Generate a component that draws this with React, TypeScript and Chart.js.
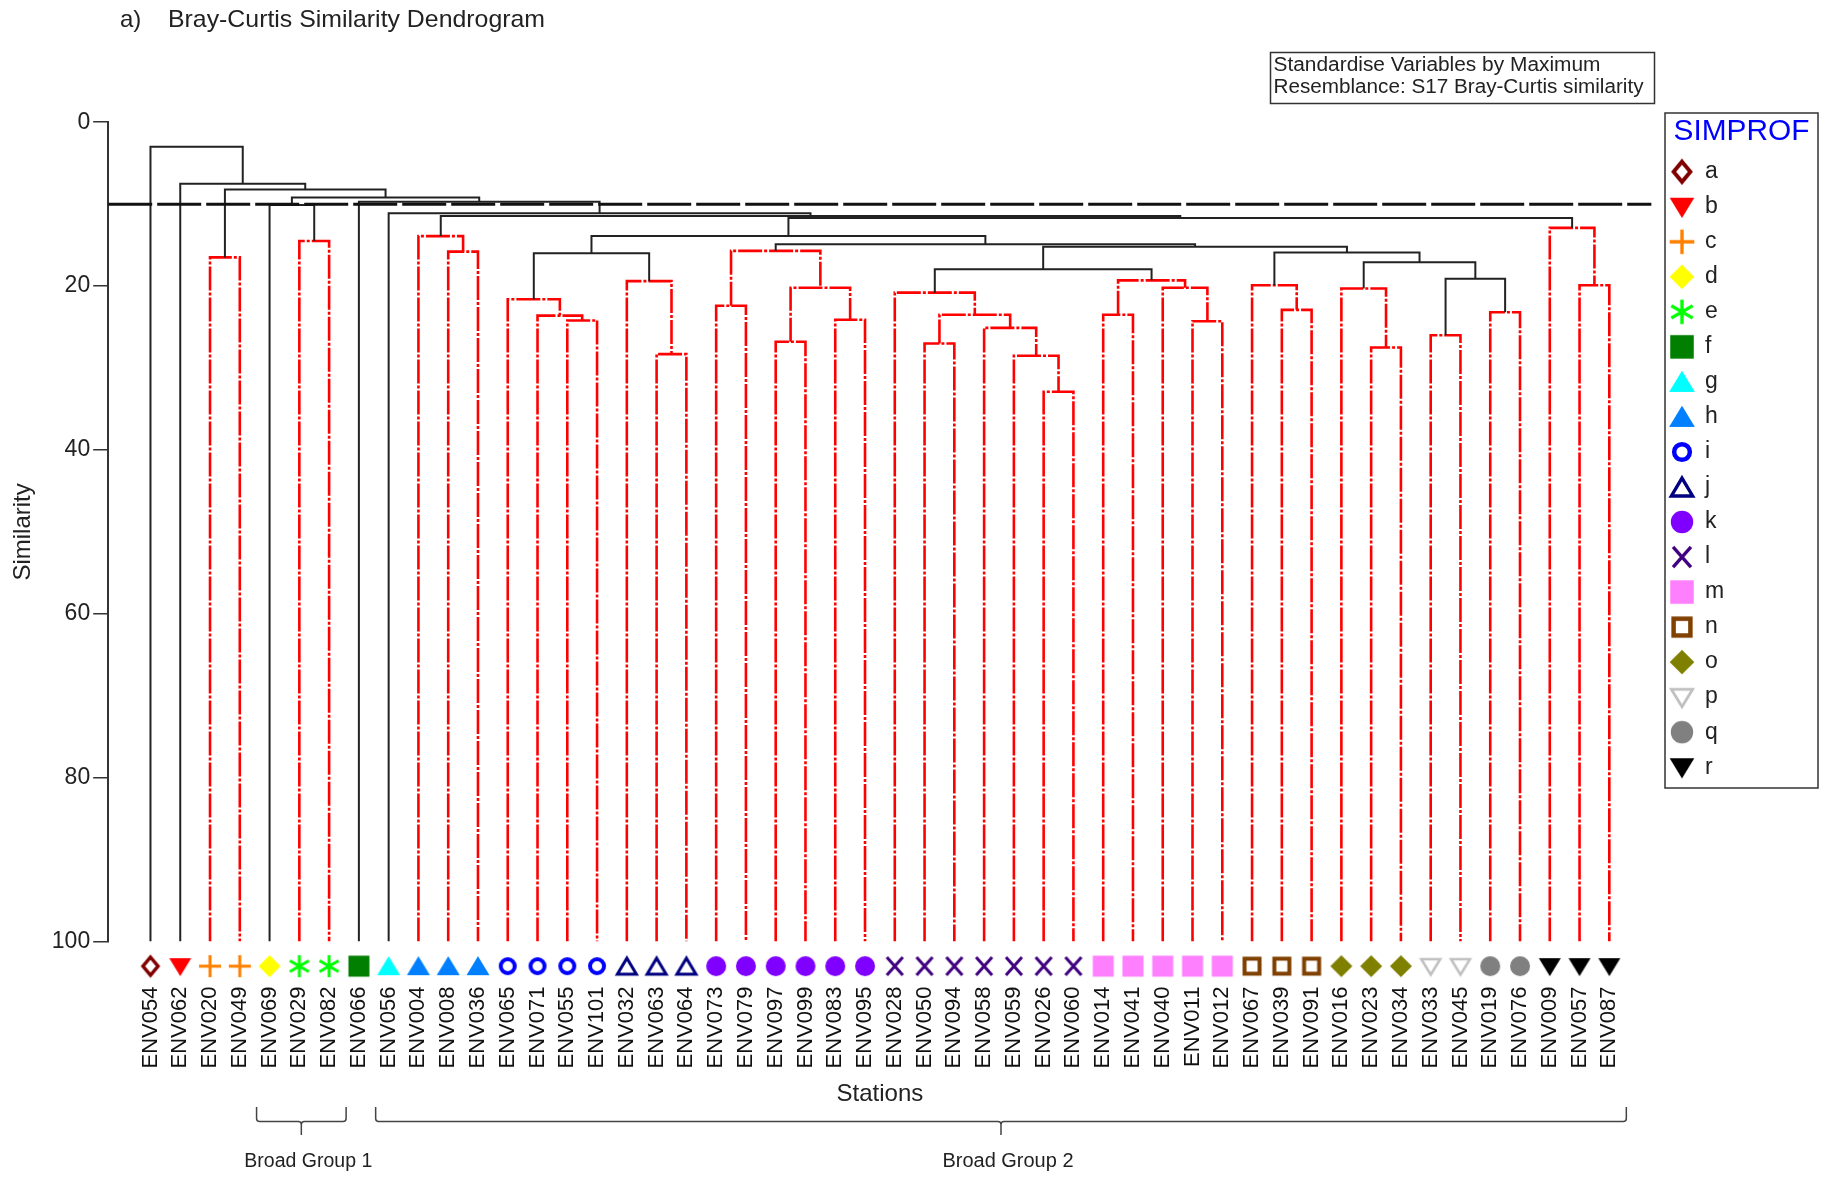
import React, { useEffect, useRef } from 'react';
import { Chart, registerables } from 'chart.js';

Chart.register(...registerables);

const FONT = "'Liberation Sans', Arial, Helvetica, sans-serif";

// ---------------- DATA ----------------
const stations = [
  'ENV054', 'ENV062', 'ENV020', 'ENV049', 'ENV069', 'ENV029', 'ENV082', 'ENV066', 'ENV056', 'ENV004',
  'ENV008', 'ENV036', 'ENV065', 'ENV071', 'ENV055', 'ENV101', 'ENV032', 'ENV063', 'ENV064', 'ENV073',
  'ENV079', 'ENV097', 'ENV099', 'ENV083', 'ENV095', 'ENV028', 'ENV050', 'ENV094', 'ENV058', 'ENV059',
  'ENV026', 'ENV060', 'ENV014', 'ENV041', 'ENV040', 'ENV011', 'ENV012', 'ENV067', 'ENV039', 'ENV091',
  'ENV016', 'ENV023', 'ENV034', 'ENV033', 'ENV045', 'ENV019', 'ENV076', 'ENV009', 'ENV057', 'ENV087',
];

const stationGroup = [
  'a', 'b', 'c', 'c', 'd', 'e', 'e', 'f', 'g', 'h',
  'h', 'h', 'i', 'i', 'i', 'i', 'j', 'j', 'j', 'k',
  'k', 'k', 'k', 'k', 'k', 'l', 'l', 'l', 'l', 'l',
  'l', 'l', 'm', 'm', 'm', 'm', 'm', 'n', 'n', 'n',
  'o', 'o', 'o', 'p', 'p', 'q', 'q', 'r', 'r', 'r',
];

// Linkage: ids 0..49 are stations, merge k gets id 50 + k
const mergeLeft = [
  2, 5, 10, 9, 14, 13, 12, 17, 16, 19,
  21, 23, 60, 59, 30, 29, 28, 26, 67, 25,
  32, 35, 34, 70, 38, 37, 41, 40, 43, 45,
  48, 47, 78, 77, 75, 69, 85, 63, 56, 88,
  89, 53, 8, 7, 4, 94, 50, 1, 0,
];
const mergeRight = [
  3, 6, 11, 52, 15, 54, 55, 18, 57, 20,
  22, 24, 61, 62, 31, 64, 65, 27, 66, 68,
  33, 36, 71, 72, 39, 74, 42, 76, 44, 46,
  49, 80, 79, 82, 83, 73, 84, 86, 58, 87,
  81, 90, 91, 92, 51, 93, 95, 96, 97,
];
const mergeSimilarity = [
  16.5, 14.5, 15.8, 13.9, 24.2, 23.6, 21.6, 28.3, 19.4, 22.4,
  26.8, 24.1, 20.2, 15.7, 32.9, 28.5, 25.1, 27.0, 23.5, 20.8,
  23.5, 24.3, 20.2, 19.3, 22.9, 19.9, 27.5, 20.3, 26.0, 23.2,
  19.9, 12.9, 19.1, 17.1, 15.9, 17.95, 15.2, 14.9, 16.0, 13.9,
  11.7, 11.45, 11.1, 9.7, 10.1, 9.2, 8.2, 7.5, 3.0,
];
// true = significant SIMPROF split (black), false = non-significant (red)
const mergeSignificant = [
  false, false, false, false, false, false, false, false, false, false,
  false, false, false, false, false, false, false, false, false, false,
  false, false, false, false, false, false, false, false, false, false,
  false, false, true, true, true, true, true, true, true, true,
  true, true, true, true, true, true, true, true, true,
];

const cutoffSimilarity = 10;
const yTickValues = [0, 20, 40, 60, 80, 100];

const groupLetters = ['a', 'b', 'c', 'd', 'e', 'f', 'g', 'h', 'i', 'j', 'k', 'l', 'm', 'n', 'o', 'p', 'q', 'r'];

const broadGroupNames = ['Broad Group 1', 'Broad Group 2'];
const broadGroupFirst = [4, 8];
const broadGroupLast = [6, 49];

const panelLabel = 'a)';
const chartTitle = 'Bray-Curtis Similarity Dendrogram';
const noteLines = ['Standardise Variables by Maximum', 'Resemblance: S17 Bray-Curtis similarity'];

// ---------------- STYLES ----------------
const groupColors = [
  '#800000', '#FF0000', '#FF8000', '#FFFF00', '#00FF00', '#007F00', '#00FFFF', '#0080FF', '#0000FF',
  '#000080', '#8000FF', '#400080', '#FF80FF', '#804000', '#808000', '#C0C0C0', '#808080', '#000000',
];
const groupShapes = [
  'diamondOpen', 'triDown', 'plus', 'diamond', 'asterisk', 'square', 'triUp', 'triUp', 'ring',
  'triUpOpen', 'circle', 'cross', 'square', 'squareOpen', 'diamond', 'triDownOpen', 'circle', 'triDown',
];

function makeMarker(shape: string, color: string, scale: number): HTMLCanvasElement {
  const size = Math.ceil(28 * scale);
  const c = document.createElement('canvas');
  c.width = size;
  c.height = size;
  const g = c.getContext('2d')!;
  g.translate(size / 2, size / 2);
  g.scale(scale, scale);
  g.fillStyle = color;
  g.strokeStyle = color;
  g.lineJoin = 'miter';
  const poly = (pts: number[][]) => {
    g.beginPath();
    g.moveTo(pts[0][0], pts[0][1]);
    for (let i = 1; i < pts.length; i++) g.lineTo(pts[i][0], pts[i][1]);
    g.closePath();
  };
  switch (shape) {
    case 'diamondOpen':
      poly([[0, -9], [7.5, 0], [0, 9], [-7.5, 0]]);
      g.fillStyle = '#fff'; g.fill(); g.lineWidth = 3.5; g.stroke();
      break;
    case 'diamond':
      poly([[0, -11], [11, 0], [0, 11], [-11, 0]]); g.fill();
      break;
    case 'triDown':
      poly([[-11, -8], [11, -8], [0, 10]]); g.fill();
      break;
    case 'triUp':
      poly([[0, -10], [11.5, 9], [-11.5, 9]]); g.fill();
      break;
    case 'triUpOpen':
      poly([[0, -8], [9.5, 8], [-9.5, 8]]);
      g.fillStyle = '#fff'; g.fill(); g.lineWidth = 3; g.stroke();
      break;
    case 'triDownOpen':
      poly([[-9.5, -7], [9.5, -7], [0, 8.5]]);
      g.fillStyle = '#fff'; g.fill(); g.lineWidth = 2.5; g.stroke();
      break;
    case 'plus':
      g.lineWidth = 3; g.beginPath();
      g.moveTo(-11, 0); g.lineTo(11, 0); g.moveTo(0, -11); g.lineTo(0, 11); g.stroke();
      break;
    case 'asterisk':
      g.lineWidth = 3; g.beginPath();
      for (const a of [90, 30, 150]) {
        const r = (a * Math.PI) / 180;
        g.moveTo(-11 * Math.cos(r), -11 * Math.sin(r));
        g.lineTo(11 * Math.cos(r), 11 * Math.sin(r));
      }
      g.stroke();
      break;
    case 'square':
      g.fillRect(-10.5, -10.5, 21, 21);
      break;
    case 'squareOpen':
      g.fillStyle = '#fff'; g.fillRect(-8, -8, 16, 16);
      g.lineWidth = 4; g.strokeRect(-7.5, -7.5, 15, 15);
      break;
    case 'ring':
      g.lineWidth = 4; g.beginPath(); g.arc(0, 0, 7, 0, Math.PI * 2); g.stroke();
      break;
    case 'circle':
      g.beginPath(); g.arc(0, 0, 10, 0, Math.PI * 2); g.fill();
      break;
    case 'cross':
      g.lineWidth = 3; g.beginPath();
      g.moveTo(-8, -9); g.lineTo(8, 9); g.moveTo(8, -9); g.lineTo(-8, 9); g.stroke();
      break;
  }
  return c;
}

function fitText(
  ctx: CanvasRenderingContext2D, text: string, x: number, y: number,
  size: number, width: number, align: CanvasTextAlign,
) {
  ctx.save();
  ctx.font = `${size}px ${FONT}`;
  const w = ctx.measureText(text).width;
  const sx = width / w;
  ctx.translate(x, y);
  ctx.scale(sx, 1);
  ctx.textAlign = align;
  ctx.textBaseline = 'middle';
  ctx.fillText(text, 0, 0);
  ctx.restore();
}

export default function App() {
  const ref = useRef<HTMLCanvasElement>(null);

  useEffect(() => {
    const canvas = ref.current;
    if (!canvas) return;

    const markers = groupLetters.map((_, g) => makeMarker(groupShapes[g], groupColors[g], 1));
    const legendMarkers = groupLetters.map((_, g) => makeMarker(groupShapes[g], groupColors[g], 1.12));

    // node positions from the linkage
    const nodeX: number[] = stations.map((_, i) => i);
    const nodeH: number[] = stations.map(() => 100);
    for (let k = 0; k < mergeLeft.length; k++) {
      nodeX.push((nodeX[mergeLeft[k]] + nodeX[mergeRight[k]]) / 2);
      nodeH.push(mergeSimilarity[k]);
    }

    const xMin = -1.42;
    const xMax = 50.42;

    const cutoffDataset: any = {
      label: 'cutoff',
      data: [{ x: xMin, y: cutoffSimilarity }, { x: xMax, y: cutoffSimilarity }],
      showLine: true,
      borderColor: '#111',
      borderWidth: 3,
      borderDash: [44, 5],
      pointRadius: 0,
      pointHoverRadius: 0,
    };

    const markerDatasets: any[] = groupLetters.map((letter, g) => ({
      label: letter,
      data: stations
        .map((_, i) => i)
        .filter((i) => stationGroup[i] === letter)
        .map((i) => ({ x: i, y: 103 })),
      showLine: false,
      pointStyle: markers[g],
      pointRadius: 30,
      pointHoverRadius: 30,
      pointBorderWidth: 0,
      clip: false,
    }));

    const mergeDatasets: any[] = [];
    const order = mergeLeft.map((_, k) => k).sort((a, b) => Number(mergeSignificant[b]) - Number(mergeSignificant[a]));
    for (const k of order) {
      const l = mergeLeft[k];
      const r = mergeRight[k];
      const h = mergeSimilarity[k];
      const sig = mergeSignificant[k];
      mergeDatasets.push({
        label: 'merge' + k,
        data: [
          { x: nodeX[l], y: nodeH[l] },
          { x: nodeX[l], y: h },
          { x: nodeX[r], y: h },
          { x: nodeX[r], y: nodeH[r] },
        ],
        showLine: true,
        borderColor: sig ? '#222' : '#FF0000',
        borderWidth: sig ? 2 : 2.6,
        borderDash: sig ? [] : [24, 2, 3, 2],
        pointRadius: 0,
        pointHoverRadius: 0,
        tension: 0,
      });
    }

    const annotations = {
      id: 'annotations',
      afterDraw(chart: any) {
        const ctx: CanvasRenderingContext2D = chart.ctx;
        const xs = chart.scales.x;
        ctx.save();
        ctx.fillStyle = '#222';
        ctx.font = `24px ${FONT}`;
        ctx.textBaseline = 'middle';
        ctx.textAlign = 'left';
        ctx.fillText(panelLabel, 120, 20.5);
        fitText(ctx, chartTitle, 168, 20.5, 24, 377, 'left');

        // note box
        ctx.strokeStyle = '#333';
        ctx.lineWidth = 1.5;
        ctx.strokeRect(1270.5, 52.5, 384, 51);
        fitText(ctx, noteLines[0], 1273.5, 65.5, 20, 327, 'left');
        fitText(ctx, noteLines[1], 1273.5, 87, 20, 370, 'left');

        // legend
        ctx.strokeRect(1665, 113, 153, 675);
        ctx.fillStyle = '#0000FF';
        fitText(ctx, 'SIMPROF', 1741.5, 131.5, 29, 136, 'center');
        ctx.fillStyle = '#222';
        groupLetters.forEach((letter, g) => {
          const cy = 171.7 + g * 35.03;
          const m = legendMarkers[g];
          ctx.drawImage(m, 1682 - m.width / 2, cy - m.height / 2);
          ctx.font = `23px ${FONT}`;
          ctx.textAlign = 'left';
          ctx.textBaseline = 'middle';
          ctx.fillText(letter, 1705, cy);
        });

        // broad group brackets
        ctx.strokeStyle = '#444';
        ctx.lineWidth = 1.5;
        broadGroupNames.forEach((name, b) => {
          const x0 = xs.getPixelForValue(broadGroupFirst[b]) - 13;
          const x1 = xs.getPixelForValue(broadGroupLast[b]) + 17;
          const xm = (x0 + x1) / 2;
          const yTop = 1107;
          const yBot = 1121.5;
          const yTick = 1135;
          ctx.beginPath();
          ctx.moveTo(x0, yTop);
          ctx.lineTo(x0, yBot - 3);
          ctx.quadraticCurveTo(x0, yBot, x0 + 3, yBot);
          ctx.lineTo(xm - 3, yBot);
          ctx.quadraticCurveTo(xm, yBot, xm, yBot + 3);
          ctx.lineTo(xm, yTick);
          ctx.moveTo(xm, yBot + 3);
          ctx.quadraticCurveTo(xm, yBot, xm + 3, yBot);
          ctx.lineTo(x1 - 3, yBot);
          ctx.quadraticCurveTo(x1, yBot, x1, yBot - 3);
          ctx.lineTo(x1, yTop);
          ctx.stroke();
          fitText(ctx, name, xm + 7, 1161.5, 20, b === 0 ? 128 : 131, 'center');
        });
        ctx.restore();
      },
    };

    const chart = new Chart(canvas, {
      type: 'scatter',
      data: { datasets: [cutoffDataset, ...markerDatasets, ...mergeDatasets] },
      options: {
        animation: false,
        responsive: true,
        maintainAspectRatio: false,
        devicePixelRatio: 1,
        events: [],
        layout: { padding: { top: 122.2, right: 173.4, bottom: 0, left: 0 } },
        plugins: {
          legend: { display: false },
          tooltip: { enabled: false },
          title: { display: false },
        },
        scales: {
          x: {
            type: 'linear',
            position: 'bottom',
            min: xMin,
            max: xMax,
            afterBuildTicks: (s: any) => {
              s.ticks = stations.map((_, i) => ({ value: i }));
            },
            afterFit: (s: any) => {
              s.height = 237.4;
            },
            grid: { display: false, drawTicks: false },
            border: { display: false },
            ticks: {
              autoSkip: false,
              minRotation: 90,
              maxRotation: 90,
              padding: 45,
              color: '#111',
              font: { family: FONT, size: 22 },
              callback: (v: any) => stations[v as number] ?? '',
            },
            title: {
              display: true,
              text: 'Stations',
              color: '#222',
              font: { family: FONT, size: 24 },
              padding: { top: 0, bottom: 70.6 },
            },
          },
          y: {
            type: 'linear',
            reverse: true,
            min: 0,
            max: 100,
            afterBuildTicks: (s: any) => {
              s.ticks = yTickValues.map((v) => ({ value: v }));
            },
            afterFit: (s: any) => {
              s.width = 108.2;
            },
            grid: {
              display: true,
              drawOnChartArea: false,
              drawTicks: true,
              tickLength: 15,
              color: '#333',
              lineWidth: 1.5,
            },
            border: { display: true, color: '#333', width: 2 },
            ticks: { padding: 3, color: '#222', font: { family: FONT, size: 23 } },
            title: {
              display: true,
              text: 'Similarity',
              color: '#222',
              font: { family: FONT, size: 24 },
              padding: { top: 9, bottom: 0 },
            },
          },
        },
      } as any,
      plugins: [annotations],
    });

    return () => chart.destroy();
  }, []);

  return (
    <div style={{ position: 'fixed', left: 0, top: 0, width: 1825, height: 1179, background: '#fff' }}>
      <canvas ref={ref} />
    </div>
  );
}
